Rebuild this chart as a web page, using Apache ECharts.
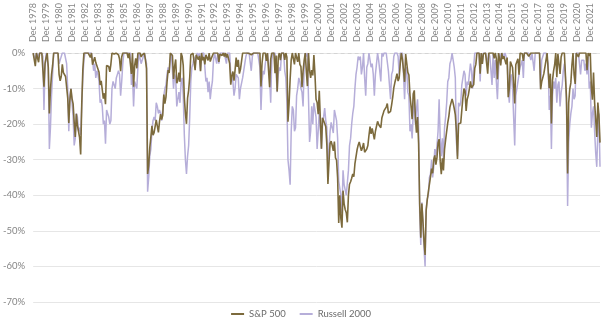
<!DOCTYPE html>
<html>
<head>
<meta charset="utf-8">
<script src="https://cdn.jsdelivr.net/npm/echarts@6/dist/echarts.min.js"></script>
<style>
  html, body { margin: 0; padding: 0; background: #ffffff; }
  #chart { width: 602px; height: 322px; }
</style>
</head>
<body>
<div id="chart"></div>
<script>
// Monthly drawdown from running peak (%), starting Dec 1978, one row per year.
const sp500 = [
  0,
  0, -3.7, 0, 0, -2.6, 0, 0, 0, -0.5, -9.5, -2.9, -1.3,
  0, -4, -17, -10.3, -6.1, -3.5, 0, 0, 0, 0, 0, -6,
  -7.8, -6.6, -3.2, -5.5, -5.6, -6.6, -6.8, -12.6, -19.7, -13.3, -10.1, -12.8,
  -14.3, -19.5, -23.6, -17.1, -20.4, -22, -23.8, -28.5, -14.3, -4.8, 0, 0,
  0, 0, 0, 0, -1.2, 0, -3.3, -2.2, -1.2, -2.7, -3.6, -4.5,
  -5.4, -9.0, -7.8, -7.3, -12.8, -11.3, -14.4, -3.5, -3.8, -3.8, -5.3, -3.1,
  0, 0, -0.3, -0.7, 0, 0, -0.5, -1.7, -5.1, -1.1, 0, 0,
  0, 0, 0, -1.4, 0, 0, -5.9, 0, -9.5, -3.5, -1.5, -4.3,
  0, 0, 0, -1.1, -0.5, 0, 0, -2, -4.4, -34, -31.6, -26.6,
  -23.7, -20.5, -23.1, -22.4, -22.2, -18.8, -19.2, -22.3, -19.3, -17.2, -18.7, -17.5,
  -11.7, -14.2, -12.4, -8.1, -4.8, -5.6, 0, 0, -0.7, -7.3, -3.8, -1.8,
  -8.5, -7.8, -5.5, -8.1, 0, -0.9, -3.5, -12.6, -17.0, -19.9, -12.7, -10.5,
  -6.8, -0.5, 0, 0, 0, -4.8, -0.5, 0, -1.9, -0.8, -5.1, 0,
  -2.0, -1.1, -3.2, -0.5, -0.4, -2.1, 0, -2.4, -1.5, -1.3, 0, 0,
  0, 0, 0, -2.5, -0.3, -0.2, -0.7, 0, -1, 0, -1.3, -0.3,
  0, -3.0, -8.9, -6.4, -5.2, -7.8, -4.8, -1.3, -3.9, -1.9, -5.8, -4.6,
  -2.3, 0, 0, 0, 0, 0, 0, -0.1, 0, -0.5, 0, 0,
  0, 0, 0, 0, 0, 0, -9.4, -2.8, 0, 0, 0, -2.2,
  0, 0, -9.6, -1.8, 0, 0, 0, -5.7, -0.7, -10.8, -1.1, 0,
  -2, 0, 0, 0, -1.9, 0, -1.2, -19.3, -14.3, -7.4, -1.9, 0,
  0, -3.2, 0, 0, -2.5, 0, -3.2, -3.8, -9.6, -5, -2.1, 0,
  -5.1, -9.3, 0, -4.9, -7.0, -4.8, -6.3, -0.6, -6.0, -13, -13.9, -17.2,
  -10.6, -18.8, -26.9, -18.2, -17.8, -19.8, -20.7, -25.8, -36.8, -30.6, -25.4, -24.8,
  -26.0, -27.5, -24.9, -29.5, -30.1, -35.2, -47.8, -40.0, -46.6, -49.1, -38.7, -42.4,
  -44.0, -44.9, -47.6, -40.0, -36.9, -36.2, -35.2, -34.0, -34.8, -31.2, -30.7, -27.2,
  -25.9, -25.0, -26.3, -27.5, -26.6, -25.3, -27.9, -27.7, -27.0, -26.0, -23.2, -20.7,
  -22.7, -21.2, -22.7, -24.3, -22.0, -22.0, -19.2, -20.1, -19.6, -21.0, -18.2, -18.3,
  -16.2, -16.2, -15.2, -14.2, -16.9, -16.8, -16.4, -14.6, -12.5, -9.8, -8.3, -7.1,
  -5.8, -7.9, -7.0, -3.0, 0, -1.8, -4.9, -8.1, -0.3, 0, -5.4, -6.2,
  -11.9, -15.0, -18.6, -11.5, -10.5, -18.2, -22.4, -18.0, -25.5, -42.5, -51.9, -42.3,
  -47.2, -53.0, -56.8, -44.2, -41.3, -41.3, -36.9, -34.8, -32.5, -33.8, -30.0, -28.8,
  -31.4, -29.4, -25.3, -24.2, -30.4, -34.1, -29.6, -33.0, -27.1, -24.4, -24.6, -19.6,
  -17.8, -15.2, -15.3, -12.9, -14.1, -15.6, -17.4, -22.1, -29.8, -19.9, -20.3, -19.7,
  -16.1, -12.7, -10.0, -10.7, -16.3, -13.0, -11.9, -10.1, -8.0, -9.8, -9.5, -8.9,
  -4.3, -3.2, 0, 0, 0, -5.8, 0, -3.1, -0.2, 0, 0, 0,
  -5.8, 0, 0, 0, 0, 0, -1.5, 0, -1.6, -7.4, 0, -0.4,
  -3.5, 0, -1.7, -0.9, -1.1, -3.2, -1.3, -12.4, -9.9, -2.4, -2.4, -4.1,
  -8.9, -14.2, -3.3, -3.1, -1.6, -6.1, 0, -0.1, -0.2, -2.2, 0, 0,
  0, 0, -0.9, -0.5, 0, 0, 0, -0.5, 0, 0, 0, 0,
  0, -10.2, -8.1, -7.8, -5.8, -5.4, -2.0, 0, 0, -9.9, -5.8, -19.8,
  -7.7, -5.0, -3.3, 0, -6.8, -0.2, 0, -5.9, -1.1, 0, 0, 0,
  -0.2, -12.8, -33.9, -14.0, -10.1, -8.4, -3.4, 0, -6.1, -8.7, 0, 0,
  -1.1, 0, 0, 0, 0, 0, 0, 0, -4.8, 0, -0.8, 0,
  -9.8, -13.1, -5.5, -13.9, -18.7, -23.6, -13.9, -17.5, -25.2
];

const russell2000 = [
  0,
  0, -2, 0, 0, -1, 0, 0, 0, -1, -16, -4, 0,
  0, -4, -27, -21, -12, -6, 0, 0, 0, 0, 0, -3,
  -2, -2, 0, 0, 0, 0, -3, -10, -22, -12, -10, -10,
  -18, -26, -24, -17, -18, -22, -21, -23, -15, -7, -2, 0,
  0, 0, 0, 0, 0, 0, -2, -5, -3, -7, -5, -6,
  -8, -14, -13, -15, -20, -19, -25.5, -16, -17, -18, -20, -19,
  -10, -8, -9, -10, -7, -6, -5, -6, -12, -8, -3, 0,
  0, 0, 0, 0, 0, 0, -9, -6, -15, -8, -8, -10,
  -4, 0, 0, -3, -3, -1, 0, 0, -3, -39, -35, -29,
  -27, -22, -19, -18, -19, -14, -15, -17, -16, -17, -19, -16,
  -12, -10, -9, -6, -4, -5, -2, 0, 0, -10, -6, -7,
  -15, -13, -11, -14, -8, -7, -12, -23, -30, -34, -29, -26,
  -18, -8, -4, -3, -1, -4, -1, 0, -1, 0, -5, 0,
  0, 0, -4, -8, -7, -11, -8, -13, -10, -8, -2, 0,
  0, -3, 0, -3, 0, 0, 0, 0, 0, 0, -3, 0,
  0, 0, -6, -7, -8, -12, -10, -6, -6, -7, -13, -10,
  -10, -7, -5, -3, -1, 0, 0, 0, 0, -5, -1, 0,
  0, 0, 0, 0, 0, -4, -16, -8, -5, -6, -3, -1,
  0, -3, -7, -14, -2, 0, 0, 0, 0, -11, -6, -4,
  -5, 0, 0, 0, -5, -7, -14, -30, -33, -37, -22, -15,
  -16, -22, -21, -12, -10, -7, -8, -10, -11, -15, -4, 0,
  -1, 0, 0, -25, -22, -15, -20, -14, -14, -18, -27, -22,
  -16.5, -21.5, -27, -20, -18, -15.5, -19, -21, -31, -27, -22, -19.5,
  -20, -22.5, -16, -15.5, -19, -24, -36, -35.5, -40, -45, -33, -37,
  -38.5, -40, -40, -33, -26, -24, -20, -17, -15, -10, -6, -4,
  -1, -2, -1, -6, -4, 0, -7, -12, -4, -3, 0, 0,
  -4, -3, -6, -12, -6, -3, 0, -2, -2, -8, 0, -1,
  0, 0, 0, 0, -5, -5, -13, -6, -5, -1, 0, 0,
  0, -1, -6, 0, 0, 0, -6, -13, -5, -4, -11, -12,
  -22, -20, -24, -17, -13, -20, -16, -13, -21, -45, -54, -42,
  -48, -55, -60, -44, -41, -40, -35, -34, -30, -35, -32, -27,
  -29, -26, -22, -13, -24, -29, -24, -30, -21, -18, -14, -8,
  -7, -3, -2, 0, -2, -4, -7, -25, -29, -14, -15, -14,
  -9, -7, -5, -6, -12, -8, -9, -6, -3, -5, -10, -4,
  0, 0, 0, 0, 0, -8, 0, -3, 0, 0, 0, 0,
  -3, 0, -1, -5, -9, 0, -7, -2, -8, -13, -5, 0,
  -3, 0, 0, -1, 0, 0, -2, -10, -14, -7, -6, -10,
  -18, -26, -12, -10, -8, -8, -4, -3, -2, -7, 0, 0,
  0, 0, 0, 0, -2, 0, 0, -5, 0, 0, 0, 0,
  0, -10, -2, -1, 0, 0, 0, 0, -3, -16, -12, -27,
  -12, -8, -10, -7, -14, -9, -8, -15, -11, -9, -5, -3,
  -7, -15, -43, -25, -20, -17, -15, -10, -13, -12, 0, 0,
  0, 0, -6, -2, -2, -2, -5, -3, -6, -1, -10, -8,
  -21, -17, -15, -22, -28, -32, -22, -17, -32
];

const monthNames = ['Jan', 'Feb', 'Mar', 'Apr', 'May', 'Jun', 'Jul', 'Aug', 'Sep', 'Oct', 'Nov', 'Dec'];
const startYear = 1978;
const startMonth = 11; // December

const yTicks = [0, -10, -20, -30, -40, -50, -60, -70];

// Month labels for the category axis, e.g. "Dec 1978".
const periods = sp500.map((_, i) => {
  const k = startMonth + i;
  return monthNames[k % 12] + ' ' + (startYear + Math.floor(k / 12));
});

const chart = echarts.init(document.getElementById('chart'), null, { renderer: 'canvas' });

chart.setOption({
  animation: false,
  backgroundColor: '#ffffff',
  grid: { left: 31, right: 2, top: 48, bottom: 20 },
  legend: {
    bottom: -2,
    left: 'center',
    data: ['S&P 500', 'Russell 2000'],
    icon: 'rect',
    itemWidth: 13,
    itemHeight: 2,
    itemGap: 14,
    textStyle: { color: '#6b6b6b', fontSize: 9.5, fontFamily: 'Lato' }
  },
  xAxis: {
    type: 'category',
    position: 'top',
    boundaryGap: false,
    data: periods,
    offset: 7,
    axisLine: { show: true, lineStyle: { color: '#d4d4d4', type: [3, 4], width: 1 } },
    axisTick: { show: false },
    axisLabel: {
      rotate: 90,
      margin: 4,
      interval: (idx, val) => val.startsWith('Dec'),
      color: '#858585',
      fontSize: 9,
      fontFamily: 'Lato'
    },
    splitLine: { show: false }
  },
  yAxis: {
    type: 'value',
    min: yTicks[yTicks.length - 1],
    max: yTicks[0],
    interval: 10,
    axisLine: { show: false },
    axisTick: { show: false },
    axisLabel: {
      formatter: '{value}%',
      color: '#858585',
      fontSize: 9.5,
      fontFamily: 'Lato',
      margin: 8
    },
    splitLine: { lineStyle: { color: '#e6e6e6', width: 1 } }
  },
  series: [
    {
      name: 'Russell 2000',
      type: 'line',
      data: russell2000,
      showSymbol: false,
      symbol: 'none',
      lineStyle: { color: '#b6aed9', width: 1.5 },
      itemStyle: { color: '#b6aed9' }
    },
    {
      name: 'S&P 500',
      type: 'line',
      data: sp500,
      showSymbol: false,
      symbol: 'none',
      lineStyle: { color: '#7c6a3c', width: 1.6 },
      itemStyle: { color: '#7c6a3c' }
    }
  ]
});
</script>
</body>
</html>
